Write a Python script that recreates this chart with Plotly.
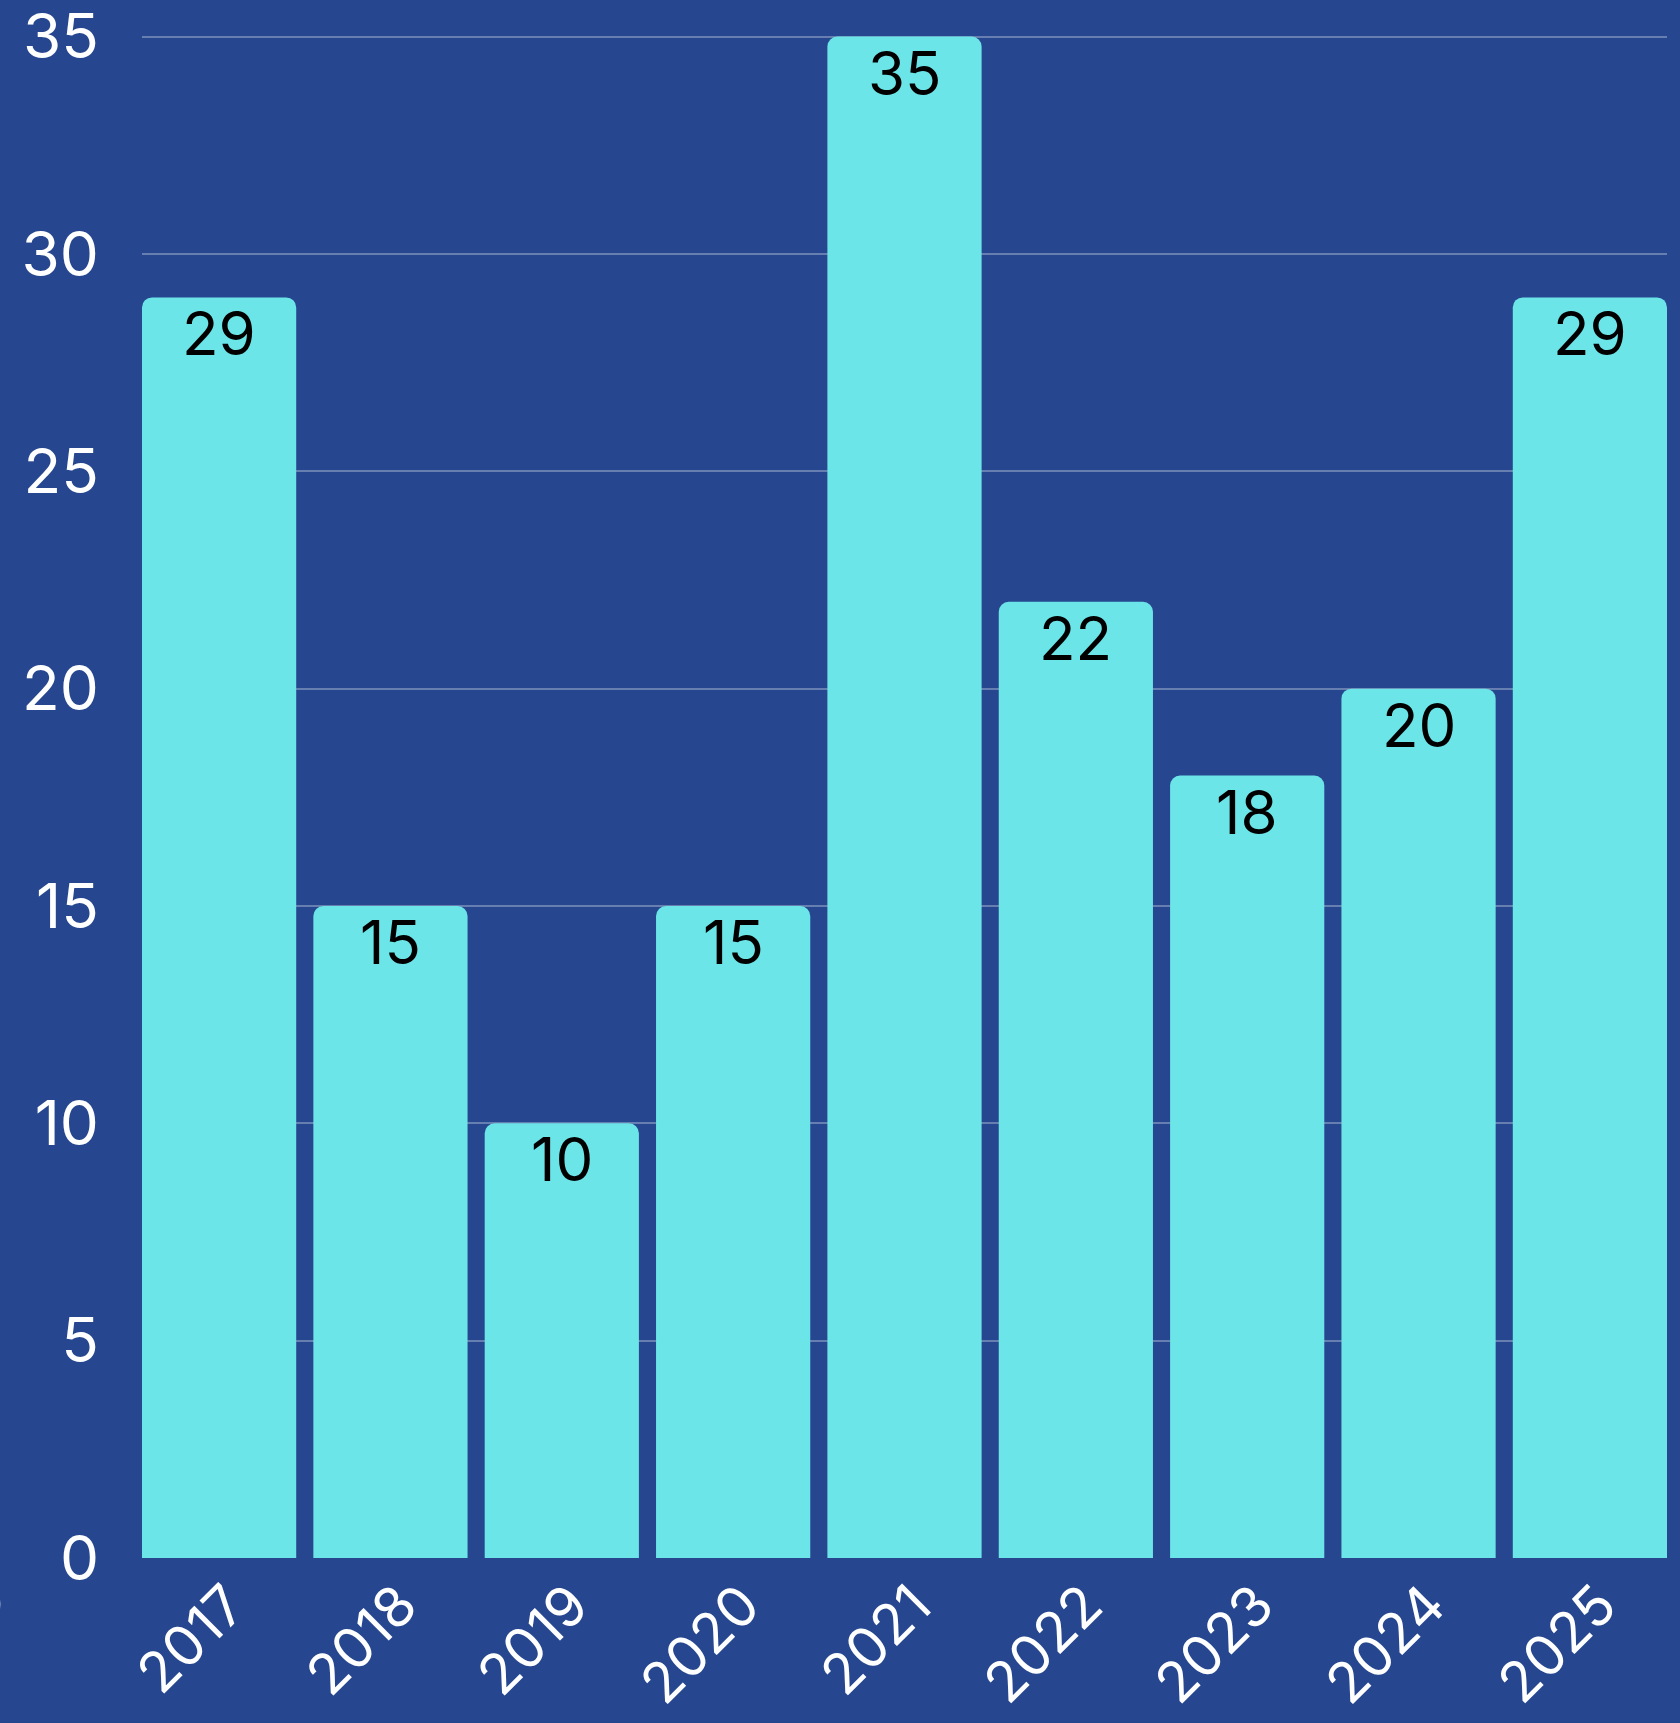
import plotly.graph_objects as go

years = ["2017", "2018", "2019", "2020", "2021", "2022", "2023", "2024", "2025"]
values = [29, 15, 10, 15, 35, 22, 18, 20, 29]
y_ticks = [0, 5, 10, 15, 20, 25, 30, 35]

BG = "#26478F"
BAR = "#6BE5E8"
FONT = "Inter, Noto Sans, sans-serif"

fig = go.Figure(
    go.Bar(
        x=years,
        y=values,
        marker=dict(color=BAR, line=dict(width=0), cornerradius=10),
        cliponaxis=False,
        hoverinfo="x+y",
    )
)

for i, v in enumerate(values):
    fig.add_annotation(
        x=i, y=v, text=str(v), showarrow=False,
        xref="x", yref="y",
        xanchor="center", yanchor="top", yshift=2,
        font=dict(color="black", size=60, family=FONT),
    )

fig.update_layout(
    width=1680,
    height=1723,
    paper_bgcolor=BG,
    plot_bgcolor=BG,
    bargap=0.1,
    showlegend=False,
    margin=dict(l=142, r=13, t=34, b=165, autoexpand=False),
    font=dict(family=FONT, color="white", size=60),
)

fig.update_xaxes(
    type="category",
    range=[-0.45, 8.45],
    tickangle=-45,
    showgrid=False,
    zeroline=False,
    showline=False,
    ticks="",
    tickfont=dict(size=56, color="white", family=FONT),
    ticklabelstandoff=2,
    ticklabelshift=10,
    automargin=False,
)

fig.update_yaxes(
    range=[0, 35.06],
    tickvals=y_ticks,
    showgrid=True,
    gridcolor="rgba(255,255,255,0.3)",
    gridwidth=1.5,
    zeroline=False,
    showline=False,
    ticks="",
    tickfont=dict(size=62, color="white", family=FONT),
    ticklabelstandoff=42,
    ticklabeloverflow="allow",
    automargin=False,
)

fig.add_annotation(
    text="0", xref="paper", yref="paper", x=-0.103, y=-0.03,
    showarrow=False, font=dict(size=60, color="white", family=FONT),
    xanchor="center", yanchor="middle",
)

fig.write_html(
    "out.html",
    config={"displayModeBar": False},
    post_script="document.body.style.margin='0';document.body.style.background='" + BG + "';",
)
